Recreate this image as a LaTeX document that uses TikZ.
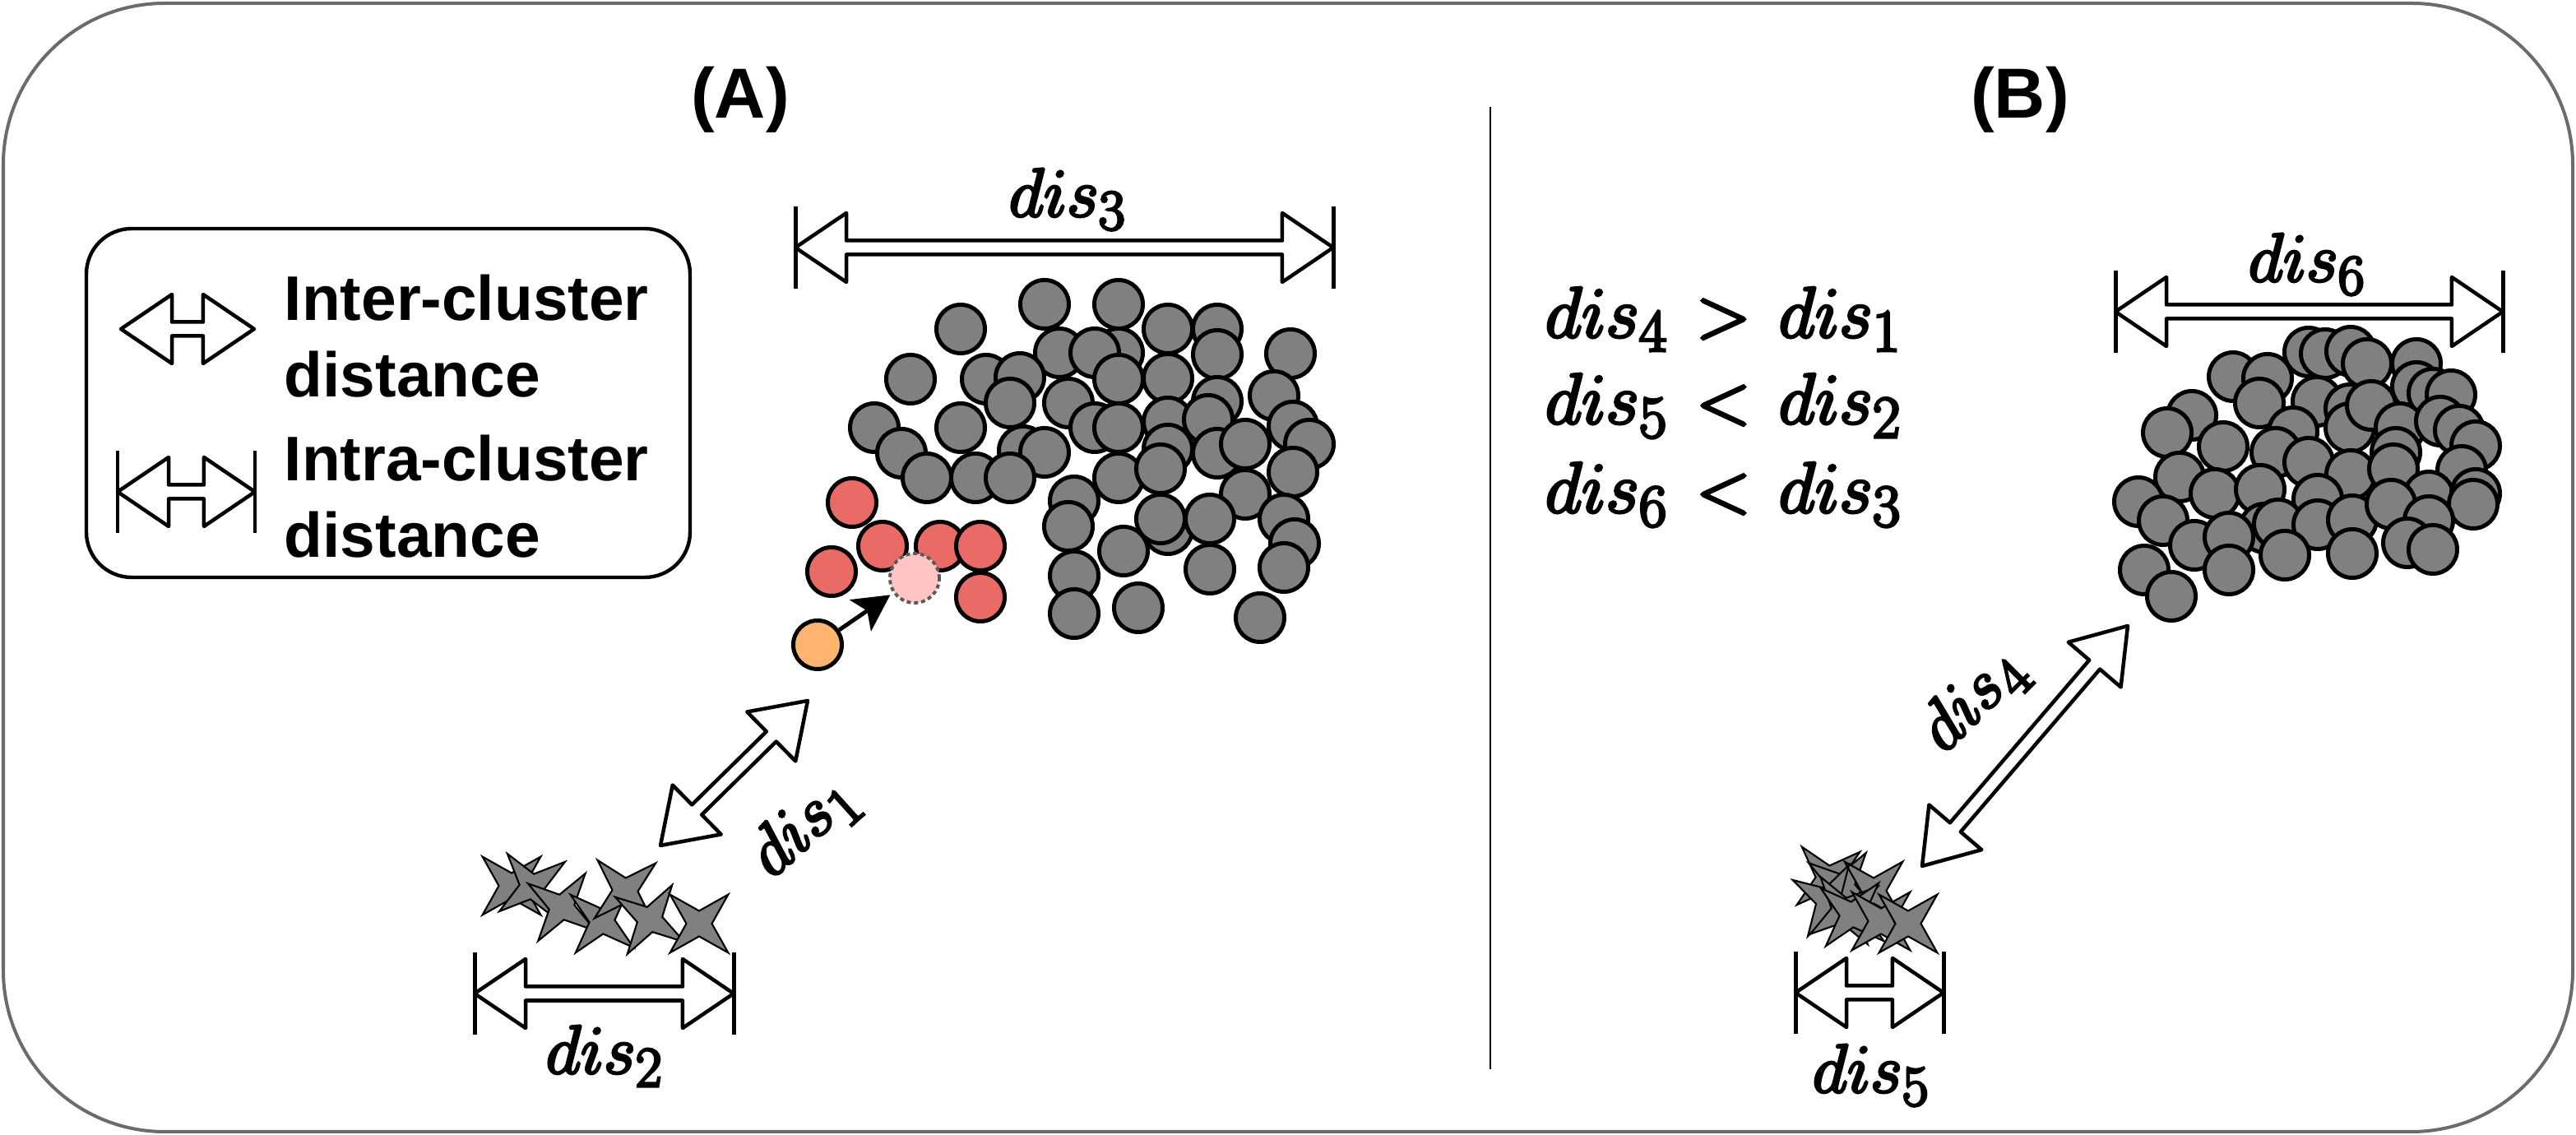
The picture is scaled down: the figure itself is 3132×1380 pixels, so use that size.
\documentclass[tikz,border=0pt]{standalone}
\usepackage[no-math]{fontspec}
\newfontfamily\arialf{Liberation Sans}
\usetikzlibrary{calc,arrows.meta}
\definecolor{gfill}{HTML}{808080}
\definecolor{redf}{HTML}{EA6B66}
\definecolor{pinkf}{HTML}{FFC4C4}
\definecolor{orangef}{HTML}{FFB570}
\definecolor{framec}{HTML}{6B6B6B}
\definecolor{dashc}{HTML}{595959}
\def\fhl{0.62cm}
\def\fhw{0.42cm}
\def\fsw{0.085cm}
\def\fbar{0.5cm}
% slightly heavier rendering of the math labels (fill + stroke text render mode)
\newcommand\hv[1]{\special{pdf:literal direct 2 Tr 0.95 w}#1\special{pdf:literal direct 0 Tr}}
\newcommand\fatarr[2]{%
  \draw[fatarrow] (#1) -- ($(#1)!\fhl!(#2)!\fhw!90:(#2)$) -- ($(#1)!\fhl!(#2)!\fsw!90:(#2)$)
   -- ($(#2)!\fhl!(#1)!\fsw!-90:(#1)$) -- ($(#2)!\fhl!(#1)!\fhw!-90:(#1)$) -- (#2)
   -- ($(#2)!\fhl!(#1)!\fhw!90:(#1)$) -- ($(#2)!\fhl!(#1)!\fsw!90:(#1)$)
   -- ($(#1)!\fhl!(#2)!\fsw!-90:(#2)$) -- ($(#1)!\fhl!(#2)!\fhw!-90:(#2)$) -- cycle;}
\newcommand\intrabars[2]{%
  \draw[barline] ($(#1)!\fbar!90:(#2)$) -- ($(#1)!\fbar!-90:(#2)$);
  \draw[barline] ($(#2)!\fbar!90:(#1)$) -- ($(#2)!\fbar!-90:(#1)$);}
\tikzset{
  fatarrow/.style={draw=black, fill=white, line width=1.28pt, line join=round},
  barline/.style={draw=black, line width=1.42pt},
  gcirc/.style={draw=black, fill=gfill, line width=1.42pt},
  rcirc/.style={draw=black, fill=redf, line width=1.42pt},
  starsty/.style={draw=black, fill=gfill, line width=0.6pt, line join=miter},
  starx/.pic={\path[starsty] (45:0.5cm) -- (90:0.155cm) -- (135:0.5cm) -- (180:0.155cm)
     -- (225:0.5cm) -- (270:0.155cm) -- (315:0.5cm) -- (0:0.155cm) -- cycle;},
  mlbl/.style={font=\Huge, scale=0.955, inner sep=0pt},
  eqlbl/.style={font=\Huge, scale=1.0, inner sep=0pt},
  lgd/.style={font=\arialf\bfseries\fontsize{21.8}{26}\selectfont, inner sep=0pt},
  ttl/.style={font=\arialf\bfseries\fontsize{24.5}{29}\selectfont, inner sep=0pt},
}
\begin{document}
\begin{tikzpicture}[x=0.01cm,y=-0.01cm]
\useasboundingbox (0,0) rectangle (3132,1380);
\draw[framec, line width=1.14pt, rounded corners=1.96cm] (4,4) rectangle (3128,1376);
% titles
\node[ttl, anchor=base] (tA) at (900,144) {(A)};
\node[ttl, anchor=base] (tB) at (2456,144) {(B)};
% divider
\coordinate (divtop) at (1812,130);
\coordinate (divbot) at (1812,1300);
\draw[line width=0.6pt] (divtop) -- (divbot);
% legend
\draw[line width=1.25pt, rounded corners=0.55cm] (105,278) rectangle (839,702);
\coordinate (li1) at (147,400); \coordinate (li2) at (309,400);
\fatarr{li1}{li2}
\coordinate (lt1) at (143,598); \coordinate (lt2) at (310,598);
\fatarr{lt1}{lt2}
\intrabars{lt1}{lt2}
\node[lgd, anchor=base west] (l1) at (345,390) {Inter-cluster};
\node[lgd, anchor=base west] (l2) at (345,483) {distance};
\node[lgd, anchor=base west] (l3) at (345,585) {Intra-cluster};
\node[lgd, anchor=base west] (l4) at (345,678) {distance};
% cluster A
\foreach \x/\y in {1270/370, 1360/370, 1168/400, 1420/400, 1480/400, 1288/429, 1360/429, 1331/429,
  1480/431, 1569/430, 1107/461, 1199/461, 1240/459, 1360/461, 1420/460, 1228/490, 1299/490,
  1480/488, 1549/481, 1063/520, 1168/520, 1331/520, 1360/520, 1420/513, 1469/510, 1572/518,
  1096/551, 1244/548, 1270/550, 1420/546, 1480/551, 1514/540, 1592/540, 1127/581, 1186/581,
  1228/581, 1360/581, 1411/570, 1572/574, 1306/609, 1514/601, 1561/631, 1420/644, 1411/631,
  1471/631, 1574/661, 1299/640, 1366/670, 1306/700, 1471/692, 1561/690, 1306/746, 1384/739, 1532/751}
  {\draw[gcirc] (\x,\y) circle[radius=0.295cm];}
\foreach \x/\y in {1036/611, 1073/664, 1011/695, 1143/664, 1192/664, 1192/726}
  {\draw[rcirc] (\x,\y) circle[radius=0.295cm];}
\node[circle, draw=dashc, dash pattern=on 1.4pt off 1.1pt, line width=1.1pt, fill=pinkf,
  minimum size=0.6cm, inner sep=0pt] (pink) at (1112,703) {};
\node[circle, draw=black, line width=1.42pt, fill=orangef, minimum size=0.59cm, inner sep=0pt]
  (orange) at (994,784) {};
\draw[line width=1.42pt, -{Stealth[length=0.44cm, width=0.46cm, inset=0.1cm]}, shorten >=0.04cm]
  (orange) -- (pink);
% dis3
\coordinate (d3a) at (967,301); \coordinate (d3b) at (1621,301);
\fatarr{d3a}{d3b}
\intrabars{d3a}{d3b}
\node[mlbl, anchor=base] (l3d) at (1298,263) {\hv{$dis_3$}};
% stars A
\foreach \x/\y/\r in {622/1077/0, 647/1078/-8, 683/1103/10, 732/1120/5, 760/1083/-3, 790/1118/12, 850/1123/0}
  {\pic[rotate=\r] at (\x,\y) {starx};}
% dis2
\coordinate (d2a) at (577,1208); \coordinate (d2b) at (892,1208);
\fatarr{d2a}{d2b}
\intrabars{d2a}{d2b}
\node[mlbl, anchor=base] (l2d) at (735,1305) {\hv{$dis_2$}};
% dis1
\coordinate (d1a) at (803,1028); \coordinate (d1b) at (982,852);
\fatarr{d1a}{d1b}
\node[mlbl, rotate=42] (l1d) at (978,1006) {\hv{$dis_1$}};
% equations
\node[eqlbl, anchor=base west] (eq1) at (1878,410) {\hv{$dis_4 \mskip7mu{>}\mskip7mu dis_1$}};
\node[eqlbl, anchor=base west] (eq2) at (1878,515) {\hv{$dis_5 \mskip7mu{<}\mskip7mu dis_2$}};
\node[eqlbl, anchor=base west] (eq3) at (1878,623) {\hv{$dis_6 \mskip7mu{<}\mskip7mu dis_3$}};
% cluster B
\foreach \x/\y in {2807/428, 2827/430, 2858/427, 2878/442, 2938/442, 2715/458, 2757/460, 2747/490,
  2938/470, 2958/478, 2980/480, 2817/488, 2857/497, 2857/520, 2883/493, 2665/505, 2635/526,
  2703/543, 2788/525, 2767/550, 2918/520, 2967/512, 2990/523, 3010/542, 2807/562, 2858/577,
  2913/550, 2910/570, 2993/572, 2650/580, 2693/600, 2748/595, 2818/607, 2600/610, 2953/603,
  3010/600, 3007/613, 2630/633, 2753/642, 2770/637, 2818/638, 2860/632, 2907/613, 2953/633,
  2668/663, 2710/653, 2778/675, 2860/673, 2927/660, 2958/668, 2607/693, 2710/693, 2640/725}
  {\draw[gcirc] (\x,\y) circle[radius=0.295cm];}
% dis6
\coordinate (d6a) at (2572,379); \coordinate (d6b) at (3043,379);
\fatarr{d6a}{d6b}
\intrabars{d6a}{d6b}
\node[mlbl, anchor=base] (l6d) at (2805,342) {\hv{$dis_6$}};
% dis4
\coordinate (d4a) at (2337,1053); \coordinate (d4b) at (2587,761);
\fatarr{d4a}{d4b}
\node[mlbl, rotate=45] (l4d) at (2400,852) {\hv{$dis_4$}};
% stars B
\foreach \x/\y/\r in {2223/1068/-5, 2240/1078/10, 2278/1083/0, 2223/1095/15, 2242/1107/-10,
  2252/1112/5, 2287/1120/0, 2320/1123/0}
  {\pic[rotate=\r] at (\x,\y) {starx};}
% dis5
\coordinate (d5a) at (2183,1207); \coordinate (d5b) at (2363,1207);
\fatarr{d5a}{d5b}
\intrabars{d5a}{d5b}
\node[mlbl, anchor=base] (l5d) at (2275,1328) {\hv{$dis_5$}};
\end{tikzpicture}
\end{document}
